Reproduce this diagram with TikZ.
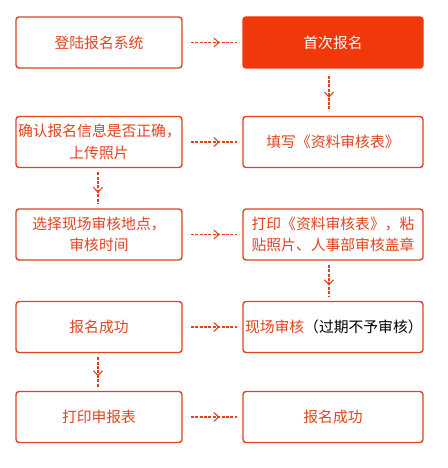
\documentclass[tikz,border=0pt]{standalone}
\usepackage{fontspec}
\setmainfont{Noto Sans CJK SC}
\usetikzlibrary{arrows.meta,decorations.markings}
\definecolor{flowred}{RGB}{226,66,30}
\definecolor{headred}{RGB}{240,56,10}

\begin{document}
\begin{tikzpicture}[x=1pt,y=-1pt,
    step box/.style={draw=flowred,line width=1.4pt,rounded corners=3pt,
      minimum height=51pt,text=flowred,align=center,inner sep=0pt,
      font=\fontsize{14.8pt}{21.5pt}\selectfont},
    left box/.style={step box,minimum width=166pt,text width=162pt},
    right box/.style={step box,minimum width=180pt,text width=176pt},
    flow/.style={flowred,line width=1.1pt,dash pattern=on 3pt off 1.4pt,
      decoration={markings,
        mark=at position 0.62 with {\arrow[solid,line width=1.1pt]{Straight Barb[length=5pt,width=9pt]}}},
      postaction={decorate}}]
  % Canvas
  \useasboundingbox (0,0) rectangle (447,468);
  \def\lx{99}   % centre of left column
  \def\rx{333}  % centre of right column
  %
  % Left column
  \node[left box] (login)   at (\lx,42.5) {登陆报名系统};
  \node[left box] (confirm) at (\lx,142)  {确认报名信息是否正确，\\上传照片};
  \node[left box] (choose)  at (\lx,234.5){选择现场审核地点，\\审核时间};
  \node[left box] (okleft)  at (\lx,327)  {报名成功};
  \node[left box] (print)   at (\lx,417)  {打印申报表};
  %
  % Right column
  \node[right box,fill=headred,draw=headred,text=white] (first) at (\rx,42.5) {首次报名};
  \node[right box] (fill)   at (\rx,142)  {填写《资料审核表》};
  \node[right box] (stamp)  at (\rx,234.5){打印《资料审核表》，粘\\贴照片、人事部审核盖章};
  \node[right box] (check)  at (\rx,327)  {现场审核\textcolor{black}{（过期不予审核）}};
  \node[right box] (okright)at (\rx,417)  {报名成功};
  %
  % Horizontal connectors
  \foreach \a/\b in {login/first,confirm/fill,choose/stamp,okleft/check,print/okright}
    \draw[flow,shorten <=8pt,shorten >=5pt] (\a.east) -- (\b.west);
  %
  % Vertical connectors
  \draw[flow,shorten <=7pt,shorten >=5pt]
    ([xshift=-4pt]first.south) -- ([xshift=-4pt]fill.north);
  \draw[flow,shorten <=4pt,shorten >=4pt]
    ([xshift=-4pt]stamp.south) -- ([xshift=-4pt]check.north);
  \draw[flow,shorten <=4pt,shorten >=4pt]
    ([xshift=-1pt]confirm.south) -- ([xshift=-1pt]choose.north);
  \draw[flow,shorten <=4pt,shorten >=4pt]
    ([xshift=-1pt]okleft.south) -- ([xshift=-1pt]print.north);
  %
\end{tikzpicture}
\end{document}
